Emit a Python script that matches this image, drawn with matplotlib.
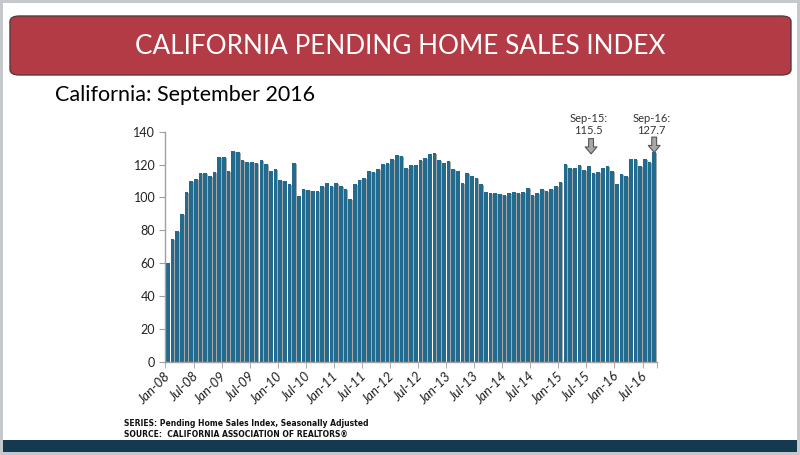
import matplotlib
matplotlib.use("Agg")
import matplotlib.pyplot as plt
from matplotlib.patches import FancyBboxPatch, Rectangle

# monthly index, Jan-08 .. Sep-16
values = [
    59.8, 74.4, 79.7, 90.2, 103.2, 109.9, 111.3, 115.0, 115.0, 113.0, 115.4, 124.8,   # 2008
    124.8, 116.0, 128.2, 127.6, 122.5, 121.5, 121.3, 121.1, 122.7, 120.5, 116.0, 117.0,  # 2009
    110.5, 109.9, 107.9, 120.9, 100.8, 105.3, 104.5, 103.8, 103.8, 106.9, 108.9, 106.9,  # 2010
    108.5, 107.1, 105.3, 99.2, 108.3, 110.9, 112.0, 116.0, 115.4, 117.4, 120.1, 120.9,   # 2011
    123.3, 126.0, 125.5, 117.8, 120.0, 119.9, 122.9, 123.8, 126.5, 127.0, 122.9, 121.1,  # 2012
    122.4, 117.2, 115.8, 108.9, 114.8, 113.1, 111.6, 108.0, 103.4, 102.4, 102.8, 102.3,  # 2013
    101.4, 102.8, 103.3, 102.8, 103.2, 105.7, 101.3, 102.6, 105.3, 103.9, 105.3, 106.7,  # 2014
    109.2, 120.5, 117.9, 117.9, 119.9, 116.5, 118.9, 114.6, 115.5, 117.9, 119.3, 116.3,  # 2015
    108.0, 114.4, 113.0, 123.3, 123.3, 119.4, 123.3, 121.7, 127.7,                       # 2016
]
month_names = ["Jan", "Feb", "Mar", "Apr", "May", "Jun",
               "Jul", "Aug", "Sep", "Oct", "Nov", "Dec"]
labels = [f"{month_names[i % 12]}-{8 + i // 12:02d}" for i in range(len(values))]
callouts = ["Sep-15", "Sep-16"]

BAR = "#236b8e"
SHADOW = "#a9a9a9"
TXT = "#222222"

fig = plt.figure(figsize=(8, 4.55), dpi=100)
fig.patch.set_facecolor("#c5c9ce")

# slide background + banner + footer band
fig.patches.append(Rectangle((3 / 800, 3 / 455), 794 / 800, 449 / 455,
                             transform=fig.transFigure, facecolor="white",
                             edgecolor="none", zorder=-2))
fig.patches.append(Rectangle((3 / 800, 3 / 455), 794 / 800, 12 / 455,
                             transform=fig.transFigure, facecolor="#143a4f",
                             edgecolor="none", zorder=-1))
fig.patches.append(FancyBboxPatch((10 / 800, 380 / 455), 781 / 800, 59 / 455,
                                  boxstyle="round,pad=0,rounding_size=0.012",
                                  transform=fig.transFigure, facecolor="#b33b46",
                                  edgecolor="#5a3a3d", linewidth=1.0, zorder=-1))
fig.text(0.5, 409 / 455, "CALIFORNIA PENDING HOME SALES INDEX", color="white",
         fontsize=18.8, family="Lato", ha="center", va="center", zorder=2)
fig.text(55 / 800, 360 / 455, "California: September 2016", color="black",
         fontsize=15.5, family="Lato", ha="left", va="center")

src_font = dict(fontsize=6.1, fontweight="bold", family="DejaVu Sans",
                stretch="condensed", ha="left", va="center", color="#111111")
fig.text(124 / 800, 32 / 455, "SERIES: Pending Home Sales Index, Seasonally Adjusted", **src_font)
fig.text(124 / 800, 21 / 455, "SOURCE:  CALIFORNIA ASSOCIATION OF REALTORS\u00ae", **src_font)

ax = fig.add_axes([165 / 800, 93.3 / 455, 492 / 800, 230 / 455])
ax.set_zorder(5)
ax.set_facecolor("none")
x = list(range(len(values)))

ax.bar([i + 0.18 for i in x], [v - 0.6 for v in values], width=0.78,
       color=SHADOW, edgecolor="none", zorder=1)
ax.bar(x, values, width=0.78, color=BAR, edgecolor="none", zorder=2)

ax.set_xlim(-0.6, len(values) - 0.4)
ax.set_ylim(0, 140)
ax.set_yticks(range(0, 141, 20))

for s in ["top", "right"]:
    ax.spines[s].set_visible(False)
for s in ["left", "bottom"]:
    ax.spines[s].set_color("#a0a0a0")
    ax.spines[s].set_linewidth(1.0)

ax.tick_params(axis="y", colors="#a0a0a0", labelcolor=TXT, labelsize=9,
               length=4, direction="out", pad=3)

major = list(range(0, len(values), 6))
ax.set_xticks(major)
ax.set_xticklabels([labels[i] for i in major], rotation=45, ha="right", va="center",
                   rotation_mode="anchor", fontsize=9.5, color=TXT,
                   family="Lato", style="italic")
ax.tick_params(axis="x", which="major", length=0, pad=9)
ax.set_xticks([i - 0.5 for i in major] + [len(values) - 0.5], minor=True)
ax.tick_params(axis="x", which="minor", length=4, color="#a0a0a0")
for lab in ax.get_yticklabels():
    lab.set_family("Lato")

# callouts: label + block arrow (arrows sit at a fixed height above the bars)
for name, dx, tip in zip(callouts, [-1.5, 0.0], [126.5, 127.4]):
    i = labels.index(name)
    v = values[i]
    ax.annotate("", xy=(i + dx, tip), xytext=(i + dx, tip + 9.3),
                annotation_clip=False,
                arrowprops=dict(width=3.5, headwidth=8.5, headlength=5,
                                facecolor="#a8a8a8", edgecolor="#555555",
                                linewidth=0.8))
    ax.text(i + dx - 0.6, 144.5, f"{name}:\n{v:.1f}", ha="center", va="center",
            fontsize=8, color="#333333", family="Lato", linespacing=1.05,
            clip_on=False)

fig.savefig("out.png", dpi=100, facecolor=fig.get_facecolor())
